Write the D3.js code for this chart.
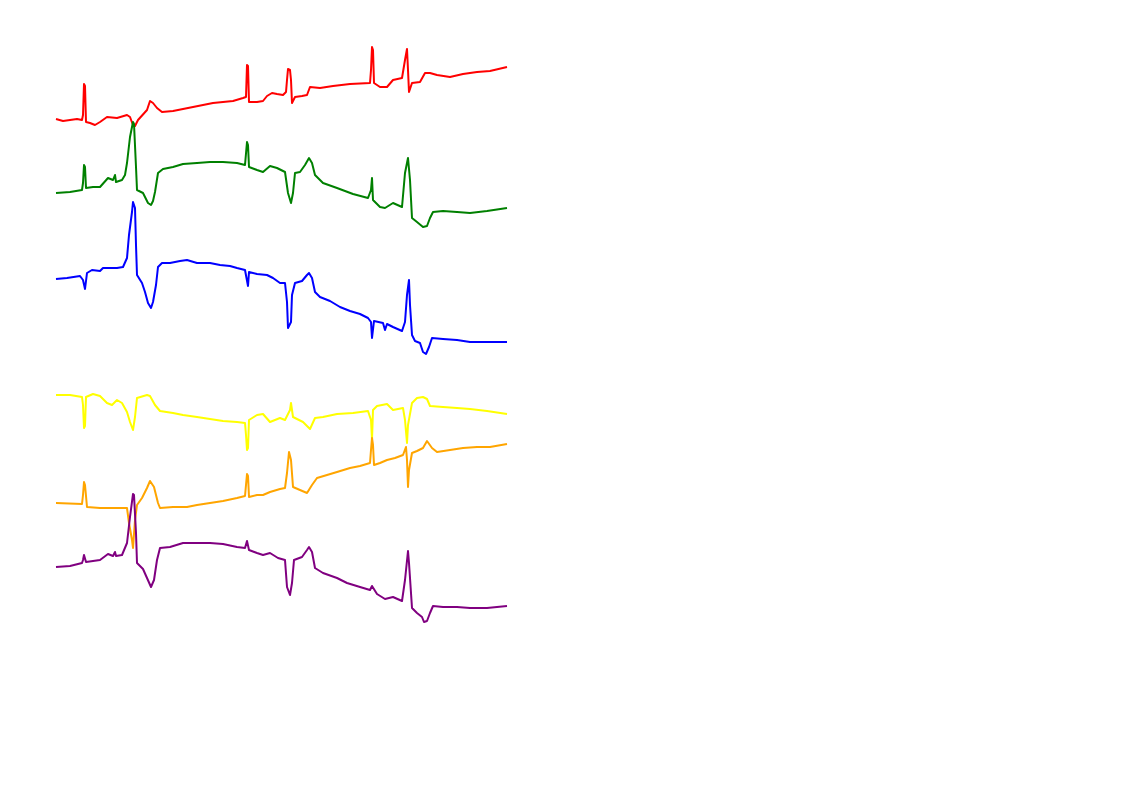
<!DOCTYPE html>
<html><head><meta charset="utf-8">
<script src="https://cdn.jsdelivr.net/npm/d3@7"></script>
<style>html,body{margin:0;padding:0;background:#fff;}svg{display:block;}</style>
</head><body>
<svg id="chart" width="1122" height="793"></svg>
<script>
// Data: [sample index, amplitude in mV]
const leadNames = ["I", "II", "III", "aVR", "aVL", "aVF"];
const leadColors = ["red", "green", "blue", "yellow", "orange", "purple"];

const leadI = [[1,0.01],[8,-0.01],[15,0],[22,0.01],[27,0],[28,0.05],[29,0.36],[30,0.34],[31,-0.02],[35,-0.03],[40,-0.05],[45,-0.02],[52,0.03],[62,0.02],[72,0.05],[75,0.03],[78,-0.05],[80,-0.06],[83,0],[92,0.10],[95,0.19],[98,0.17],[102,0.12],[107,0.08],[118,0.09],[128,0.11],[138,0.13],[148,0.15],[158,0.17],[168,0.18],[178,0.19],[188,0.22],[191,0.23],[192,0.55],[193,0.54],[194,0.18],[202,0.18],[208,0.19],[212,0.24],[217,0.27],[222,0.26],[228,0.25],[231,0.28],[232,0.40],[233,0.51],[235,0.50],[236,0.40],[237,0.17],[240,0.23],[247,0.24],[252,0.25],[255,0.33],[265,0.32],[278,0.34],[295,0.36],[315,0.37],[316,0.50],[317,0.73],[318,0.70],[319,0.37],[325,0.33],[332,0.33],[338,0.40],[347,0.42],[350,0.60],[352,0.71],[353,0.50],[354,0.28],[357,0.37],[365,0.38],[370,0.47],[375,0.47],[382,0.45],[395,0.43],[408,0.46],[422,0.48],[435,0.49],[452,0.53]];

const leadII = [[1,-0.03],[15,-0.02],[27,0],[28,0.07],[29,0.25],[30,0.23],[31,0.02],[38,0.03],[45,0.03],[53,0.12],[58,0.10],[60,0.15],[61,0.08],[67,0.10],[70,0.15],[72,0.27],[75,0.53],[78,0.68],[79,0.66],[81,0.23],[82,0],[88,-0.03],[93,-0.13],[96,-0.15],[98,-0.11],[100,-0.02],[103,0.17],[108,0.21],[118,0.23],[128,0.26],[142,0.27],[155,0.28],[168,0.28],[182,0.27],[190,0.25],[192,0.48],[193,0.45],[194,0.23],[202,0.20],[208,0.18],[215,0.24],[222,0.22],[230,0.18],[233,-0.03],[236,-0.13],[238,-0.03],[240,0.17],[245,0.18],[250,0.25],[254,0.32],[257,0.27],[260,0.15],[268,0.07],[282,0.02],[298,-0.04],[313,-0.08],[316,0],[317,0.12],[318,-0.10],[325,-0.17],[330,-0.18],[338,-0.13],[347,-0.17],[350,0.17],[353,0.32],[355,0.10],[357,-0.28],[362,-0.32],[368,-0.37],[372,-0.36],[375,-0.28],[378,-0.22],[388,-0.21],[402,-0.22],[415,-0.23],[432,-0.21],[452,-0.18]];

const leadIII = [[1,-0.01],[12,0],[25,0.02],[28,-0.02],[30,-0.11],[32,0.05],[37,0.08],[45,0.07],[48,0.10],[62,0.10],[68,0.11],[72,0.20],[74,0.43],[77,0.66],[78,0.76],[80,0.70],[81,0.33],[82,0.03],[87,-0.05],[90,-0.14],[93,-0.25],[96,-0.30],[98,-0.24],[101,-0.07],[103,0.11],[107,0.15],[115,0.15],[125,0.17],[132,0.18],[142,0.15],[155,0.15],[165,0.13],[175,0.12],[182,0.10],[190,0.08],[193,-0.08],[194,0.06],[202,0.04],[212,0.03],[218,0],[225,-0.05],[230,-0.05],[232,-0.24],[233,-0.50],[236,-0.44],[237,-0.17],[240,-0.05],[247,-0.03],[252,0.03],[254,0.05],[257,0],[260,-0.14],[265,-0.19],[275,-0.23],[285,-0.29],[295,-0.33],[305,-0.36],[313,-0.40],[316,-0.44],[317,-0.60],[319,-0.43],[328,-0.45],[330,-0.52],[332,-0.46],[338,-0.49],[347,-0.53],[350,-0.44],[352,-0.17],[354,-0.02],[355,-0.27],[357,-0.57],[360,-0.63],[365,-0.65],[368,-0.74],[371,-0.76],[374,-0.69],[377,-0.60],[388,-0.61],[402,-0.62],[415,-0.64],[432,-0.64],[452,-0.64]];

const leadAVR = [[1,0],[15,0],[27,-0.02],[28,-0.10],[29,-0.33],[30,-0.31],[31,-0.02],[38,0.01],[45,-0.01],[52,-0.08],[57,-0.10],[62,-0.05],[67,-0.08],[72,-0.17],[75,-0.27],[78,-0.35],[80,-0.22],[82,-0.03],[92,0],[95,-0.01],[100,-0.10],[105,-0.16],[118,-0.18],[128,-0.20],[142,-0.22],[155,-0.24],[168,-0.26],[182,-0.27],[190,-0.28],[191,-0.40],[192,-0.55],[193,-0.53],[194,-0.25],[202,-0.20],[208,-0.19],[215,-0.27],[225,-0.23],[230,-0.25],[235,-0.15],[236,-0.08],[238,-0.22],[248,-0.27],[255,-0.34],[260,-0.23],[268,-0.22],[282,-0.19],[298,-0.18],[313,-0.16],[316,-0.25],[317,-0.45],[318,-0.15],[322,-0.11],[332,-0.09],[338,-0.15],[348,-0.13],[350,-0.25],[352,-0.48],[353,-0.30],[357,-0.08],[362,-0.03],[368,-0.02],[372,-0.04],[375,-0.11],[388,-0.12],[402,-0.13],[415,-0.14],[432,-0.16],[452,-0.19]];

const leadAVL = [[1,0],[27,-0.01],[28,0.08],[29,0.21],[30,0.18],[32,-0.04],[45,-0.05],[62,-0.05],[72,-0.05],[74,-0.20],[77,-0.37],[78,-0.45],[80,-0.17],[82,-0.02],[87,0.05],[92,0.15],[95,0.22],[99,0.16],[103,0],[105,-0.05],[118,-0.04],[132,-0.04],[142,-0.02],[155,0],[168,0.02],[182,0.05],[190,0.07],[191,0.18],[192,0.29],[193,0.27],[194,0.06],[202,0.08],[208,0.08],[215,0.11],[225,0.14],[230,0.15],[232,0.30],[234,0.51],[236,0.43],[238,0.16],[245,0.13],[252,0.10],[257,0.18],[262,0.25],[272,0.28],[282,0.31],[295,0.35],[305,0.37],[315,0.40],[316,0.53],[317,0.65],[318,0.58],[319,0.38],[325,0.40],[332,0.43],[340,0.45],[348,0.48],[351,0.56],[352,0.43],[353,0.16],[354,0.33],[357,0.50],[362,0.52],[368,0.55],[372,0.62],[377,0.55],[382,0.51],[395,0.53],[408,0.55],[422,0.56],[435,0.56],[452,0.59]];

const leadAVF = [[1,0],[15,0.01],[27,0.04],[28,0.07],[29,0.12],[31,0.05],[45,0.07],[53,0.13],[58,0.11],[60,0.15],[61,0.11],[67,0.12],[72,0.24],[75,0.50],[78,0.73],[79,0.72],[81,0.34],[82,0.04],[88,-0.02],[92,-0.11],[96,-0.20],[99,-0.13],[102,0.07],[105,0.19],[115,0.20],[128,0.24],[142,0.24],[155,0.24],[168,0.23],[182,0.20],[190,0.19],[192,0.26],[194,0.17],[202,0.14],[208,0.12],[215,0.14],[223,0.09],[230,0.07],[232,-0.20],[235,-0.28],[237,-0.16],[239,0.07],[247,0.10],[252,0.17],[254,0.20],[257,0.15],[260,-0.01],[268,-0.06],[282,-0.11],[292,-0.16],[305,-0.20],[315,-0.23],[317,-0.19],[322,-0.27],[330,-0.32],[338,-0.30],[347,-0.34],[350,-0.13],[353,0.16],[354,0.04],[357,-0.41],[362,-0.46],[367,-0.50],[369,-0.55],[372,-0.54],[375,-0.46],[378,-0.39],[388,-0.40],[402,-0.40],[415,-0.41],[432,-0.41],[452,-0.39]];

const leads = [leadI, leadII, leadIII, leadAVR, leadAVL, leadAVF];

// Layout
const baselines = [120, 190, 278, 395, 503, 567];
const pxPerMv = 100;

const svg = d3.select("#chart");
const x = d3.scaleLinear().domain([0, 452]).range([55, 507]);

leads.forEach((data, i) => {
  const y = d3.scaleLinear().domain([0, 1]).range([baselines[i], baselines[i] - pxPerMv]);
  const line = d3.line().x(d => x(d[0])).y(d => y(d[1]));
  svg.append("path")
    .datum(data)
    .attr("fill", "none")
    .attr("stroke", leadColors[i])
    .attr("stroke-width", 2)
    .attr("stroke-linejoin", "round")
    .attr("d", line)
    .append("title").text(leadNames[i]);
});
</script>
</body></html>
